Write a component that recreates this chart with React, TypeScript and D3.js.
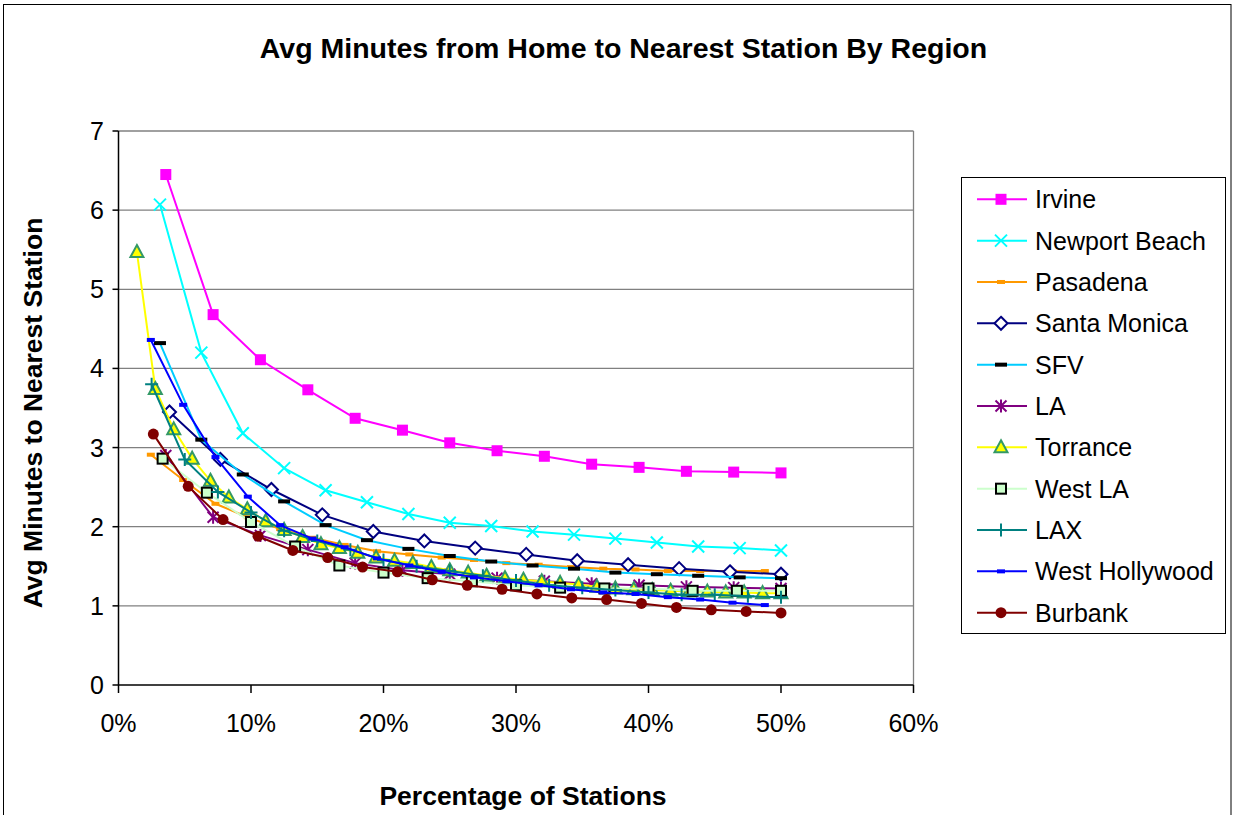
import React from "react";
import * as d3 from "d3";

const W = 1235;
const H = 815;

const title = "Avg Minutes from Home to Nearest Station By Region";
const xTitle = "Percentage of Stations";
const yTitle = "Avg Minutes to Nearest Station";

const xTicks = [0, 10, 20, 30, 40, 50, 60];
const xTickLabels = ["0%", "10%", "20%", "30%", "40%", "50%", "60%"];
const yTicks = [0, 1, 2, 3, 4, 5, 6, 7];

// x positions (percentage of stations) per region
const x26 = [3.85, 7.69, 11.54, 15.38, 19.23, 23.08, 26.92, 30.77, 34.62, 38.46, 42.31, 46.15, 50];
const x28 = [3.57, 7.14, 10.71, 14.29, 17.86, 21.43, 25, 28.57, 32.14, 35.71, 39.29, 42.86, 46.43, 50];
const x30 = [3.33, 6.67, 10, 13.33, 16.67, 20, 23.33, 26.67, 30, 33.33, 36.67, 40, 43.33, 46.67, 50];
const x32 = [3.13, 6.25, 9.38, 12.5, 15.63, 18.75, 21.88, 25, 28.13, 31.25, 34.38, 37.5, 40.63, 43.75, 46.88, 50];
const x38 = [2.63, 5.26, 7.89, 10.53, 13.16, 15.79, 18.42, 21.05, 23.68, 26.32, 28.95, 31.58, 34.21, 36.84, 39.47, 42.11, 44.74, 47.37, 50];
const x40 = [2.5, 5, 7.5, 10, 12.5, 15, 17.5, 20, 22.5, 25, 27.5, 30, 32.5, 35, 37.5, 40, 42.5, 45, 47.5, 50];
const x41 = [2.44, 4.88, 7.32, 9.76, 12.2, 14.63, 17.07, 19.51, 21.95, 24.39, 26.83, 29.27, 31.71, 34.15, 36.59, 39.02, 41.46, 43.9, 46.34, 48.78];
const x72 = [1.39, 2.78, 4.17, 5.56, 6.94, 8.33, 9.72, 11.11, 12.5, 13.89, 15.28, 16.67, 18.06, 19.44, 20.83, 22.22, 23.61, 25, 26.39, 27.78, 29.17, 30.56, 31.94, 33.33, 34.72, 36.11, 37.5, 38.89, 40.28, 41.67, 43.06, 44.44, 45.83, 47.22, 48.61, 50];

// avg minutes per region
const irvine = [6.45, 4.68, 4.11, 3.73, 3.37, 3.22, 3.06, 2.96, 2.89, 2.79, 2.75, 2.7, 2.69, 2.68];
const newportBeach = [6.07, 4.2, 3.18, 2.74, 2.46, 2.31, 2.16, 2.05, 2.01, 1.94, 1.9, 1.85, 1.8, 1.75, 1.73, 1.7];
const pasadena = [2.91, 2.59, 2.29, 2.12, 1.97, 1.86, 1.77, 1.69, 1.65, 1.61, 1.58, 1.54, 1.52, 1.49, 1.47, 1.46, 1.44, 1.44, 1.44, 1.44];
const santaMonica = [3.45, 2.85, 2.47, 2.15, 1.94, 1.82, 1.73, 1.65, 1.57, 1.52, 1.47, 1.43, 1.4];
const sfv = [4.32, 3.1, 2.66, 2.32, 2.02, 1.83, 1.72, 1.63, 1.56, 1.51, 1.47, 1.42, 1.4, 1.38, 1.36, 1.35];
const la = [2.9, 2.12, 1.89, 1.71, 1.54, 1.45, 1.4, 1.35, 1.31, 1.28, 1.26, 1.24, 1.23, 1.22];
const torrance = [5.47, 3.74, 3.23, 2.86, 2.58, 2.37, 2.22, 2.07, 1.96, 1.87, 1.78, 1.73, 1.67, 1.61, 1.57, 1.54, 1.49, 1.45, 1.42, 1.38, 1.35, 1.33, 1.31, 1.29, 1.27, 1.24, 1.22, 1.21, 1.2, 1.19, 1.18, 1.18, 1.17, 1.17, 1.16, 1.16];
const westLA = [2.86, 2.43, 2.06, 1.75, 1.51, 1.42, 1.35, 1.31, 1.26, 1.23, 1.22, 1.22, 1.19, 1.19, 1.19];
const lax = [3.8, 2.85, 2.44, 2.18, 1.95, 1.82, 1.71, 1.58, 1.5, 1.44, 1.38, 1.32, 1.26, 1.23, 1.2, 1.17, 1.14, 1.14, 1.12, 1.11];
const westHollywood = [4.36, 3.54, 2.88, 2.38, 2.02, 1.85, 1.74, 1.6, 1.51, 1.43, 1.36, 1.31, 1.26, 1.21, 1.17, 1.15, 1.11, 1.08, 1.04, 1.01];
const burbank = [3.17, 2.51, 2.09, 1.88, 1.7, 1.61, 1.49, 1.43, 1.33, 1.26, 1.21, 1.15, 1.1, 1.08, 1.03, 0.98, 0.95, 0.93, 0.91];

type Marker = "square" | "x" | "dash" | "diamond" | "bigdash" | "asterisk" | "triangle" | "plus" | "circle";

interface Series {
  name: string;
  xs: number[];
  ys: number[];
  color: string;
  marker: Marker;
  fill: string;
  stroke: string;
}

const series: Series[] = [
  { name: "Irvine", xs: x28, ys: irvine, color: "#FF00FF", marker: "square", fill: "#FF00FF", stroke: "#FF00FF" },
  { name: "Newport Beach", xs: x32, ys: newportBeach, color: "#00FFFF", marker: "x", fill: "none", stroke: "#00FFFF" },
  { name: "Pasadena", xs: x41, ys: pasadena, color: "#FF9900", marker: "dash", fill: "#FF9900", stroke: "#FF9900" },
  { name: "Santa Monica", xs: x26, ys: santaMonica, color: "#000080", marker: "diamond", fill: "#FFFFFF", stroke: "#000080" },
  { name: "SFV", xs: x32, ys: sfv, color: "#00CCFF", marker: "bigdash", fill: "#000000", stroke: "#000000" },
  { name: "LA", xs: x28, ys: la, color: "#800080", marker: "asterisk", fill: "none", stroke: "#800080" },
  { name: "Torrance", xs: x72, ys: torrance, color: "#FFFF00", marker: "triangle", fill: "#FFFF00", stroke: "#339966" },
  { name: "West LA", xs: x30, ys: westLA, color: "#CCFFCC", marker: "square", fill: "#CCFFCC", stroke: "#000000" },
  { name: "LAX", xs: x40, ys: lax, color: "#008080", marker: "plus", fill: "none", stroke: "#008080" },
  { name: "West Hollywood", xs: x41, ys: westHollywood, color: "#0000FF", marker: "dash", fill: "#0000FF", stroke: "#0000FF" },
  { name: "Burbank", xs: x38, ys: burbank, color: "#800000", marker: "circle", fill: "#800000", stroke: "#800000" },
];

const FONT = "'Liberation Sans', Arial, Helvetica, sans-serif";

function MarkerShape({ type, x, y, fill, stroke, outlined }: { type: Marker; x: number; y: number; fill: string; stroke: string; outlined: boolean }) {
  switch (type) {
    case "square":
      if (outlined) {
        return <rect x={x - 5} y={y - 5} width={10} height={10} fill={fill} stroke={stroke} strokeWidth={2} />;
      }
      return <rect x={x - 5.5} y={y - 5.5} width={11} height={11} fill={fill} />;
    case "x":
      return (
        <path d={`M${x - 6},${y - 6}L${x + 6},${y + 6}M${x - 6},${y + 6}L${x + 6},${y - 6}`} stroke={stroke} strokeWidth={2} fill="none" />
      );
    case "dash":
      return <rect x={x - 4} y={y - 2} width={8} height={4} fill={fill} />;
    case "bigdash":
      return <rect x={x - 6} y={y - 2} width={12} height={4} fill={fill} />;
    case "diamond":
      return <path d={`M${x},${y - 6.5}L${x + 6.5},${y}L${x},${y + 6.5}L${x - 6.5},${y}Z`} fill={fill} stroke={stroke} strokeWidth={2} />;
    case "asterisk":
      return (
        <path
          d={`M${x},${y - 6.5}L${x},${y + 6.5}M${x - 5.5},${y - 5.5}L${x + 5.5},${y + 5.5}M${x - 5.5},${y + 5.5}L${x + 5.5},${y - 5.5}`}
          stroke={stroke}
          strokeWidth={2}
          fill="none"
        />
      );
    case "triangle":
      return <path d={`M${x},${y - 7}L${x + 6.5},${y + 5}L${x - 6.5},${y + 5}Z`} fill={fill} stroke={stroke} strokeWidth={2} />;
    case "plus":
      return <path d={`M${x - 6.5},${y}L${x + 6.5},${y}M${x},${y - 6.5}L${x},${y + 6.5}`} stroke={stroke} strokeWidth={2} fill="none" />;
    case "circle":
      return <circle cx={x} cy={y} r={5.5} fill={fill} />;
  }
  return null;
}

export default function App() {
  const left = 118.5;
  const right = 913.5;
  const top = 131;
  const bottom = 685;

  const xScale = d3.scaleLinear().domain([0, 60]).range([left, right]);
  const yScale = d3.scaleLinear().domain([0, 7]).range([bottom, top]);

  const line = d3
    .line<[number, number]>()
    .x((d) => xScale(d[0]))
    .y((d) => yScale(d[1]));

  const legendX = 961;
  const legendY = 177;
  const legendW = 264;
  const legendH = 456;
  const legendFirst = 199.3;
  const legendStep = 41.34;

  return (
    <svg
      width={W}
      height={H}
      style={{ position: "fixed", left: 0, top: 0, background: "#fff" }}
      fontFamily={FONT}
    >
      <rect x={0} y={0} width={W} height={H} fill="#fff" />
      {/* outer chart border */}
      <rect x={3.5} y={4.5} width={1227.5} height={840} fill="none" stroke="#000" strokeWidth={1} />

      {/* title */}
      <text x={623.5} y={58} textAnchor="middle" fontSize={28.5} fontWeight="bold" fill="#000">
        {title}
      </text>

      {/* gridlines */}
      {yTicks
        .filter((t) => t > 0)
        .map((t) => (
          <line key={"g" + t} x1={left} x2={right} y1={yScale(t)} y2={yScale(t)} stroke="#808080" strokeWidth={1.3} />
        ))}
      {/* plot area right border */}
      <line x1={right} x2={right} y1={top} y2={bottom} stroke="#808080" strokeWidth={1.3} />

      {/* axes */}
      <line x1={left} x2={left} y1={top} y2={bottom} stroke="#000" strokeWidth={1.5} />
      <line x1={left} x2={right} y1={bottom} y2={bottom} stroke="#000" strokeWidth={1.5} />
      {yTicks.map((t) => (
        <g key={"y" + t}>
          <line x1={left - 6} x2={left} y1={yScale(t)} y2={yScale(t)} stroke="#000" strokeWidth={1.5} />
          <text x={104} y={yScale(t)} dy="0.36em" textAnchor="end" fontSize={25} fill="#000">
            {t}
          </text>
        </g>
      ))}
      {xTicks.map((t, i) => (
        <g key={"x" + t}>
          <line x1={xScale(t)} x2={xScale(t)} y1={bottom} y2={bottom + 8} stroke="#000" strokeWidth={1.5} />
          <text x={xScale(t)} y={732} textAnchor="middle" fontSize={25} fill="#000">
            {xTickLabels[i]}
          </text>
        </g>
      ))}

      {/* axis titles */}
      <text x={523} y={805} textAnchor="middle" fontSize={26.5} fontWeight="bold" fill="#000">
        {xTitle}
      </text>
      <text
        transform={`translate(42, 413) rotate(-90)`}
        textAnchor="middle"
        fontSize={26.5}
        fontWeight="bold"
        fill="#000"
      >
        {yTitle}
      </text>

      {/* series */}
      {series.map((s) => {
        const pts: [number, number][] = s.xs.slice(0, s.ys.length).map((x, i) => [x, s.ys[i]]);
        return (
          <g key={s.name}>
            <path d={line(pts) || ""} fill="none" stroke={s.color} strokeWidth={2} />
            {pts.map((p, i) => (
              <MarkerShape
                key={i}
                type={s.marker}
                x={xScale(p[0])}
                y={yScale(p[1])}
                fill={s.fill}
                stroke={s.stroke}
                outlined={s.name === "West LA"}
              />
            ))}
          </g>
        );
      })}

      {/* legend */}
      <rect x={legendX + 0.5} y={legendY + 0.5} width={legendW} height={legendH} fill="#fff" stroke="#000" strokeWidth={1} />
      {series.map((s, i) => {
        const cy = legendFirst + i * legendStep;
        return (
          <g key={"l" + s.name}>
            <line x1={977} x2={1027} y1={cy} y2={cy} stroke={s.color} strokeWidth={2} />
            <MarkerShape type={s.marker} x={1001} y={cy} fill={s.fill} stroke={s.stroke} outlined={s.name === "West LA"} />
            <text x={1035} y={cy} dy="0.36em" fontSize={25} fill="#000">
              {s.name}
            </text>
          </g>
        );
      })}
    </svg>
  );
}
